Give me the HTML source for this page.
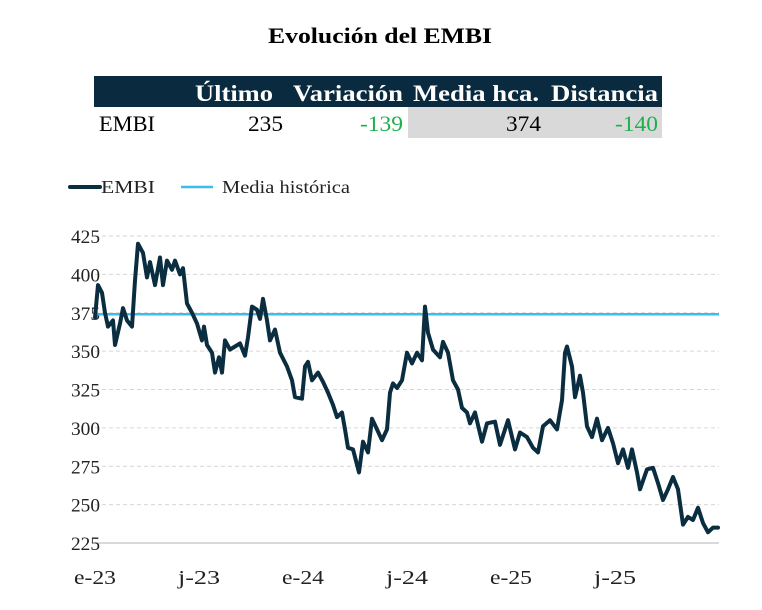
<!DOCTYPE html>
<html><head><meta charset="utf-8"><style>
body{margin:0;background:#fff;width:762px;height:610px;overflow:hidden;font-family:"Liberation Serif",serif}
</style></head><body>
<svg width="762" height="610" style="position:absolute;left:0;top:0">
<text x="268" y="43" font-size="22" font-weight="bold" fill="#000" textLength="224" lengthAdjust="spacingAndGlyphs">Evolución del EMBI</text>
<g>
<rect x="94" y="76" width="568" height="31" fill="#0a2a3f"/>
<rect x="408" y="107" width="254" height="31" fill="#d9d9d9"/>
<g font-size="23" font-weight="bold" fill="#fff">
<text x="195" y="101" textLength="78" lengthAdjust="spacingAndGlyphs">Último</text>
<text x="293" y="101" textLength="110" lengthAdjust="spacingAndGlyphs">Variación</text>
<text x="413" y="101" textLength="126" lengthAdjust="spacingAndGlyphs">Media hca.</text>
<text x="551" y="101" textLength="107" lengthAdjust="spacingAndGlyphs">Distancia</text>
</g>
<g font-size="22">
<text x="99" y="131" fill="#000" textLength="56" lengthAdjust="spacingAndGlyphs">EMBI</text>
<text x="248" y="131" fill="#000" textLength="35" lengthAdjust="spacingAndGlyphs">235</text>
<text x="360" y="131" fill="#1db04f" textLength="43" lengthAdjust="spacingAndGlyphs">-139</text>
<text x="506" y="131" fill="#000" textLength="35" lengthAdjust="spacingAndGlyphs">374</text>
<text x="615" y="131" fill="#1db04f" textLength="43" lengthAdjust="spacingAndGlyphs">-140</text>
</g>
</g>
<g font-size="18" fill="#222">
<line x1="70" y1="187" x2="100" y2="187" stroke="#0b2d40" stroke-width="4" stroke-linecap="round"/>
<text x="101" y="193" textLength="54" lengthAdjust="spacingAndGlyphs">EMBI</text>
<line x1="181" y1="187" x2="213" y2="187" stroke="#3bbcf0" stroke-width="2.5"/>
<text x="222" y="193" textLength="128" lengthAdjust="spacingAndGlyphs">Media histórica</text>
</g>
<g id="grid"></g><g id="axes"></g><g id="series"></g>
</svg>
<script>
const weeks=[0,0.75,1.75,2.5,3.25,4.5,5,6.25,7,8,9.25,10,10.75,12,13,13.75,15,16.25,17,18,19.25,20,21.25,22,23,24.25,25.5,26.75,27.25,28,29.25,30,31,31.75,32.5,33.75,35,36.25,37.5,38.25,39.25,40.5,41.25,42,43,43.75,45,46.25,48,49.25,50,51.75,52.5,53.25,54.25,55.75,57,58.25,59.5,60.5,61.75,62.5,63.25,64.5,66,67,68.25,69.25,70.5,71.75,73,73.75,74.5,75.5,76.75,78,79.25,80.5,81.75,82.5,83.25,84.5,86.25,87,88.25,89.5,90.75,91.75,93,93.75,95,96.75,98,100,101.25,103.25,105,106.25,108,109.5,110.75,112,113.75,115.5,116.75,117.5,118,119.25,120,121.25,122,123,124.25,125.5,126.75,128.25,129.5,130.75,132,133.25,134.25,135.5,136.25,138,139.5,140.75,142,143.25,144.5,145.75,147,148.25,149.5,150.75,152,153.25,154.5,155.75];
const embi=[372,393,388,375,366,370,354,368,378,370,366,396,420,414,398,408,393,411,393,409,403,409,400,404,381,375,368,357,366,354,349,336,346,336,357,351,353,355,347,359,379,377,371,384,370,357,364,349,340,331,320,319,340,343,331,336,330,323,315,307,310,299,287,286,271,291,284,306,299,292,299,323,329,326,331,349,342,349,344,379,362,351,346,356,349,331,325,313,310,303,310,291,303,304,289,305,286,297,294,287,284,301,305,299,318,349,353,340,320,334,323,301,294,306,292,300,290,277,286,274,286,271,260,273,274,264,253,260,268,260,237,242,240,248,238,232,235,235];
const mediaHistorica=374;
const yTicks=[225,250,275,300,325,350,375,400,425];
const xTickWeeks=[0,26,52,78,104,130];
const xTickLabels=["e-23","j-23","e-24","j-24","e-25","j-25"];
const NS="http://www.w3.org/2000/svg";
const X0=95,X1=719,W0=0,W1=156,Y0=543,Y1=236,V0=225,V1=425;
const xs=w=>X0+(w-W0)/(W1-W0)*(X1-X0);
const ys=v=>Y0-(v-V0)/(V1-V0)*(Y0-Y1);
function mk(t,a,p){const e=document.createElementNS(NS,t);for(const k in a)e.setAttribute(k,a[k]);p.appendChild(e);return e;}
const grid=document.getElementById('grid'),axes=document.getElementById('axes'),series=document.getElementById('series');
yTicks.forEach(v=>{
 const l=mk('line',{x1:X0,x2:X1,y1:ys(v),y2:ys(v),stroke:v===225?'#d9d9d9':'#d6d6d6','stroke-width':v===225?2:1,'stroke-dasharray':v===225?'':'4,3'},grid);
 
 
 const t=mk('text',{x:71,y:ys(v)+7,'font-size':19,fill:'#222',textLength:29,lengthAdjust:'spacingAndGlyphs'},axes);
 t.textContent=v;
 
 
});
xTickWeeks.forEach((w,i)=>{
 const t=mk('text',{x:xs(w)-21,y:584,'font-size':20,fill:'#222',textLength:xTickLabels[i].length*10.5,lengthAdjust:'spacingAndGlyphs'},axes);
 t.textContent=xTickLabels[i];
 
 
});
const ml=mk('line',{x1:X0,x2:X1,y1:ys(mediaHistorica),y2:ys(mediaHistorica),stroke:'#3bbcf0','stroke-width':2.5},series);


const d=weeks.map((w,i)=>(i?'L':'M')+xs(w).toFixed(1)+','+ys(embi[i]).toFixed(1)).join('');
const p=mk('path',{d:d,fill:'none',stroke:'#0b2d40','stroke-width':4,'stroke-linejoin':'round','stroke-linecap':'round'},series);


</script>
</body></html>
